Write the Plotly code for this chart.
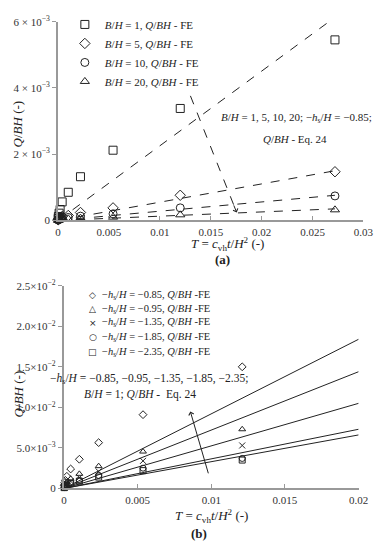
import plotly.graph_objects as go

W, H = 387, 550
FONT = "Liberation Serif, Times New Roman, serif"

def px(x):
    return x / W

def py(y):
    return 1 - y / H

# ---------------- Panel (a) data ----------------
T_a = [0.00001, 0.00003, 0.0001, 0.0002, 0.0004, 0.001, 0.0022, 0.0054, 0.012, 0.0272]
q_bh1 = [0.06e-3, 0.12e-3, 0.22e-3, 0.33e-3, 0.56e-3, 0.85e-3, 1.32e-3, 2.12e-3, 3.38e-3, 5.45e-3]
q_bh5 = [0.02e-3, 0.04e-3, 0.06e-3, 0.09e-3, 0.12e-3, 0.15e-3, 0.24e-3, 0.38e-3, 0.76e-3, 1.47e-3]
q_bh10 = [0.01e-3, 0.02e-3, 0.04e-3, 0.05e-3, 0.07e-3, 0.09e-3, 0.13e-3, 0.20e-3, 0.38e-3, 0.74e-3]
q_bh20 = [0.005e-3, 0.01e-3, 0.02e-3, 0.03e-3, 0.04e-3, 0.05e-3, 0.07e-3, 0.10e-3, 0.17e-3, 0.32e-3]
a_labels = ["<i>B</i>/<i>H</i> = 1, <i>Q</i>/<i>BH</i> - FE",
            "<i>B</i>/<i>H</i> = 5, <i>Q</i>/<i>BH</i> - FE",
            "<i>B</i>/<i>H</i> = 10, <i>Q</i>/<i>BH</i> - FE",
            "<i>B</i>/<i>H</i> = 20, <i>Q</i>/<i>BH</i> - FE"]
a_symbols = ["square-open", "diamond-open", "circle-open", "triangle-up-open"]
# Eq. 24 lines (start and end T, end value)
eq_a_T = [0.0, 0.0272]
eq_a_end = [6.13e-3, 1.50e-3, 0.76e-3, 0.35e-3]
a_xticks = [0, 0.005, 0.01, 0.015, 0.02, 0.025, 0.03]
a_xticktext = ["0", "0.005", "0.01", "0.015", "0.02", "0.025", "0.03"]
a_yticks = [0, 0.002, 0.004, 0.006]
a_yticktext = ["0", "2 × 10<sup>−3</sup>", "4 × 10<sup>−3</sup>", "6 × 10<sup>−3</sup>"]

# ---------------- Panel (b) data ----------------
T_b = [0.00002, 0.00005, 0.0001, 0.0002, 0.00046, 0.00105, 0.00236, 0.00537, 0.0121]
q_085 = [0.4e-3, 0.7e-3, 1.0e-3, 1.5e-3, 2.4e-3, 3.6e-3, 5.65e-3, 9.1e-3, 15.0e-3]
q_095 = [0.2e-3, 0.35e-3, 0.55e-3, 0.8e-3, 1.2e-3, 1.8e-3, 2.75e-3, 4.55e-3, 7.3e-3]
q_135 = [0.15e-3, 0.25e-3, 0.4e-3, 0.6e-3, 0.9e-3, 1.35e-3, 2.1e-3, 3.4e-3, 5.3e-3]
q_185 = [0.1e-3, 0.18e-3, 0.3e-3, 0.45e-3, 0.7e-3, 1.0e-3, 1.6e-3, 2.5e-3, 3.7e-3]
q_235 = [0.1e-3, 0.15e-3, 0.27e-3, 0.4e-3, 0.6e-3, 0.9e-3, 1.4e-3, 2.2e-3, 3.5e-3]
b_hs = ["−0.85", "−0.95", "−1.35", "−1.85", "−2.35"]
b_symbols = ["diamond-open", "triangle-up-open", "x-thin-open", "circle-open", "square-open"]
b_glyphs = ["◇", "△", "×", "○", "□"]
eq_b_T = [0.0, 0.02]
eq_b_end = [18.4e-3, 14.4e-3, 10.5e-3, 7.3e-3, 6.6e-3]
b_xticks = [0, 0.005, 0.01, 0.015, 0.02]
b_xticktext = ["0", "0.005", "0.01", "0.015", "0.02"]
b_yticks = [0, 0.005, 0.01, 0.015, 0.02, 0.025]
b_yticktext = ["0", "5.0×10<sup>−3</sup>", "1.0×10<sup>−2</sup>", "1.5×10<sup>−2</sup>",
               "2.0×10<sup>−2</sup>", "2.5×10<sup>−2</sup>"]

fig = go.Figure()

# Panel (a) Eq. 24 dashed lines
for end in eq_a_end:
    fig.add_trace(go.Scatter(x=eq_a_T, y=[0, end], mode="lines",
                             line=dict(color="#222", width=1, dash="dash"),
                             showlegend=False, xaxis="x", yaxis="y", hoverinfo="skip"))
# Panel (a) FE markers
for q, lab, sym in zip([q_bh1, q_bh5, q_bh10, q_bh20], a_labels, a_symbols):
    fig.add_trace(go.Scatter(x=T_a, y=q, mode="markers", name=lab,
                             marker=dict(symbol=sym, size=8, color="#222",
                                         line=dict(width=1, color="#222")),
                             cliponaxis=False, xaxis="x", yaxis="y", legend="legend"))

# Panel (b) Eq. 24 solid lines
for end in eq_b_end:
    fig.add_trace(go.Scatter(x=eq_b_T, y=[0, end], mode="lines",
                             line=dict(color="#222", width=1),
                             showlegend=False, xaxis="x2", yaxis="y2", hoverinfo="skip"))
# Panel (b) FE markers
for q, sym in zip([q_085, q_095, q_135, q_185, q_235], b_symbols):
    fig.add_trace(go.Scatter(x=T_b, y=q, mode="markers",
                             marker=dict(symbol=sym, size=6, color="#222",
                                         line=dict(width=1, color="#222")),
                             cliponaxis=False, showlegend=False, xaxis="x2", yaxis="y2"))

axis_common = dict(showline=True, linecolor="#999", linewidth=2, showgrid=False,
                   zeroline=False, tickcolor="#999", ticklen=4, tickwidth=1,
                   tickfont=dict(family=FONT, size=11, color="#333"), tickmode="array")

fig.update_layout(
    width=W, height=H, margin=dict(l=0, r=0, t=0, b=0),
    plot_bgcolor="white", paper_bgcolor="white",
    font=dict(family=FONT, size=11, color="#222"),
    xaxis=dict(domain=[px(57), px(373)], range=[0, 0.03], anchor="y",
               tickvals=a_xticks, ticktext=a_xticktext, ticks="inside", **axis_common),
    yaxis=dict(domain=[py(218), py(14)], range=[0, 0.006], anchor="x",
               tickvals=a_yticks, ticktext=a_yticktext, ticks="outside", **axis_common),
    xaxis2=dict(domain=[px(63), px(368)], range=[0, 0.02], anchor="y2",
                tickvals=b_xticks, ticktext=b_xticktext, ticks="inside", **axis_common),
    yaxis2=dict(domain=[py(493), py(285)], range=[0, 0.025], anchor="x2",
                tickvals=b_yticks, ticktext=b_yticktext, ticks="outside", **axis_common),
    legend=dict(x=px(64), y=py(2), xanchor="left", yanchor="top",
                bgcolor="rgba(0,0,0,0)", font=dict(family=FONT, size=11, color="#222"),
                itemwidth=30),
)

ann = []

def txt(x, y, text, size, **kw):
    d = dict(x=px(x), y=py(y), xref="paper", yref="paper", showarrow=False,
             xanchor="center", yanchor="middle", text=text, font=dict(size=size))
    d.update(kw)
    ann.append(d)

# axis titles
txt(16, 119, "<i>Q</i>/<i>BH</i> (-)", 13, textangle=-90)
txt(232, 242, "<i>T</i> = <i>c</i><sub>vh</sub><i>t</i>/<i>H</i><sup>2</sup> (-)", 13)
txt(227, 258, "<b>(a)</b>", 13)
txt(16, 396, "<i>Q</i>/<i>BH</i> (-)", 13, textangle=-90)
txt(216, 521, "<i>T</i> = <i>c</i><sub>vh</sub><i>t</i>/<i>H</i><sup>2</sup> (-)", 13)
txt(203, 539, "<b>(b)</b>", 13)
# panel (a) annotation
txt(304, 113, "<i>B</i>/<i>H</i> = 1, 5, 10, 20; −<i>h</i><sub>s</sub>/<i>H</i> = −0.85;", 11)
txt(302, 134, "<i>Q</i>/<i>BH</i> - Eq. 24", 11)
# panel (b) annotation
txt(151, 381, "−<i>h</i><sub>s</sub>/<i>H</i> = −0.85, −0.95, −1.35, −1.85, −2.35;", 11.5)
txt(142, 397, "<i>B</i>/<i>H</i> = 1; <i>Q</i>/<i>BH</i> -  Eq. 24", 11.5)
# panel (b) legend (manual)
rows_b = [295, 309, 323, 338, 353]
for g, hs, yy in zip(b_glyphs, b_hs, rows_b):
    txt(93, yy, g, 9, font=dict(family="DejaVu Sans", size=9, color="#222"))
    txt(100, yy, f"−<i>h</i><sub>s</sub>/<i>H</i> = {hs}, <i>Q</i>/<i>BH</i> -FE", 10.5,
        xanchor="left")
# arrows
ann.append(dict(x=0.01755, y=0.00024, ax=0.0172, ay=0.0005, xref="x", yref="y",
                axref="x", ayref="y", showarrow=True, arrowhead=4, arrowsize=1,
                arrowwidth=1, arrowcolor="#222", text=""))
ann.append(dict(x=0.00858, y=0.0095, ax=0.00983, ay=0.00168, xref="x2", yref="y2",
                axref="x2", ayref="y2", showarrow=True, arrowhead=4, arrowsize=1,
                arrowwidth=1, arrowcolor="#222", text=""))
fig.update_layout(annotations=ann)

fig.add_shape(type="line", x0=0.013, y0=0.00376, x1=0.01755, y1=0.00024,
              xref="x", yref="y", line=dict(color="#222", width=1, dash="dash"))

fig.write_html("out.html", config={"displayModeBar": False},
               post_script="document.body.style.margin='0';document.body.style.padding='0';")
